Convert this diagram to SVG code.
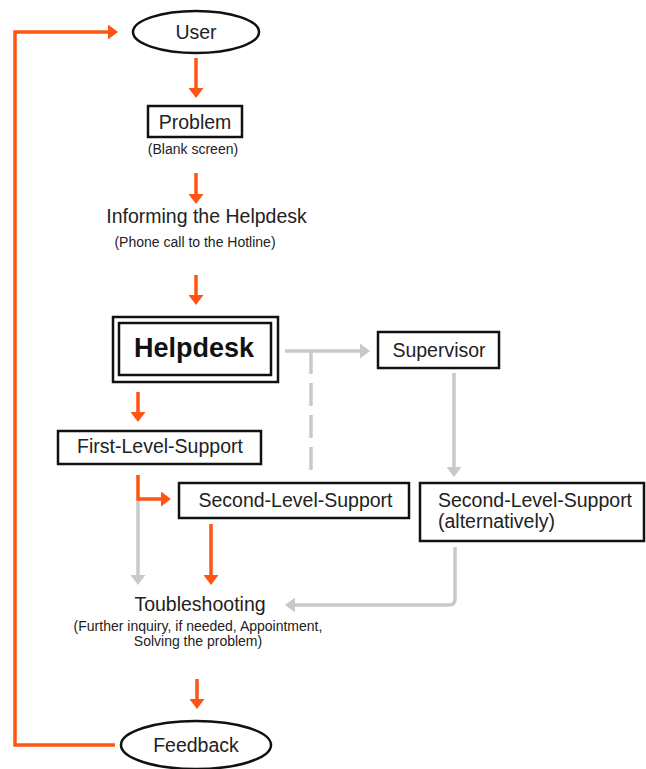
<svg xmlns="http://www.w3.org/2000/svg" width="646" height="769" viewBox="0 0 646 769">
<style>
  .box{fill:#fff;stroke:#111;stroke-width:2.5}
  .lbl{font-family:"Liberation Sans",Arial,sans-serif;font-size:19.5px;fill:#222}
  .sub{font-family:"Liberation Sans",Arial,sans-serif;font-size:14px;fill:#222}
  .bold{font-family:"Liberation Sans",Arial,sans-serif;font-size:27px;font-weight:bold;fill:#111}
  .or{fill:none;stroke:#ff5414;stroke-width:3.5}
  .gr{fill:none;stroke:#c9c9c9;stroke-width:3.5}
  .mid{text-anchor:middle}
</style>
<defs>
  <marker id="ao" markerUnits="userSpaceOnUse" viewBox="0 -7.5 10 15" refX="3" refY="0" markerWidth="10" markerHeight="15" orient="auto">
    <path d="M0,-7.5 L10,0 L0,7.5 z" fill="#ff5414"/>
  </marker>
  <marker id="ag" markerUnits="userSpaceOnUse" viewBox="0 -7.5 10 15" refX="3" refY="0" markerWidth="10" markerHeight="15" orient="auto">
    <path d="M0,-7.5 L10,0 L0,7.5 z" fill="#c9c9c9"/>
  </marker>
</defs>
<g id="connectors">
  <path class="gr" d="M285,351 H363" marker-end="url(#ag)"/>
  <path class="gr" d="M311,351 V476" stroke-dasharray="23,9"/>
  <path class="gr" d="M454,373 V470" marker-end="url(#ag)"/>
  <path class="gr" d="M138,499 V578" marker-end="url(#ag)"/>
  <path class="gr" d="M455,547 V599 Q455,605 449,605 H292" marker-end="url(#ag)"/>
  <path class="or" d="M196,58 V91" marker-end="url(#ao)"/>
  <path class="or" d="M196,173 V197" marker-end="url(#ao)"/>
  <path class="or" d="M196,275 V298" marker-end="url(#ao)"/>
  <path class="or" d="M138,392 V415" marker-end="url(#ao)"/>
  <path class="or" d="M138,475 V499 H164" marker-end="url(#ao)"/>
  <path class="or" d="M211,524 V578" marker-end="url(#ao)"/>
  <path class="or" d="M197,679 V702" marker-end="url(#ao)"/>
  <path class="or" d="M115,745 H15 V32 H111" marker-end="url(#ao)"/>
</g>
<g id="user">
  <ellipse class="box" cx="196" cy="32" rx="63" ry="21"/>
  <text class="lbl mid" x="196" y="39">User</text>
</g>
<g id="problem">
  <rect class="box" x="148" y="106" width="94" height="31"/>
  <text class="lbl mid" x="195" y="129">Problem</text>
  <text class="sub mid" x="193" y="154">(Blank screen)</text>
</g>
<g id="informing">
  <text class="lbl mid" x="206.5" y="223">Informing the Helpdesk</text>
  <text class="sub mid" x="195" y="247">(Phone call to the Hotline)</text>
</g>
<g id="helpdesk">
  <rect class="box" x="113" y="317" width="165" height="65"/>
  <rect class="box" x="119" y="323" width="152" height="52"/>
  <text class="bold mid" x="194" y="357">Helpdesk</text>
</g>
<g id="supervisor">
  <rect class="box" x="378" y="332" width="121" height="36"/>
  <text class="lbl mid" x="439" y="357">Supervisor</text>
</g>
<g id="first-level">
  <rect class="box" x="58" y="431" width="203" height="33"/>
  <text class="lbl mid" x="160" y="453">First-Level-Support</text>
</g>
<g id="second-level">
  <rect class="box" x="179" y="483" width="230" height="35"/>
  <text class="lbl mid" x="295.5" y="507">Second-Level-Support</text>
</g>
<g id="second-level-alt">
  <rect class="box" x="420" y="483" width="224" height="58"/>
  <text class="lbl" x="438" y="507">Second-Level-Support</text>
  <text class="lbl" x="438" y="528">(alternatively)</text>
</g>
<g id="troubleshooting">
  <text class="lbl mid" x="200" y="611">Toubleshooting</text>
  <text class="sub mid" x="198" y="631">(Further inquiry, if needed, Appointment,</text>
  <text class="sub mid" x="198" y="646">Solving the problem)</text>
</g>
<g id="feedback">
  <ellipse class="box" cx="196" cy="745" rx="75" ry="24"/>
  <text class="lbl mid" x="196" y="752">Feedback</text>
</g>
</svg>
